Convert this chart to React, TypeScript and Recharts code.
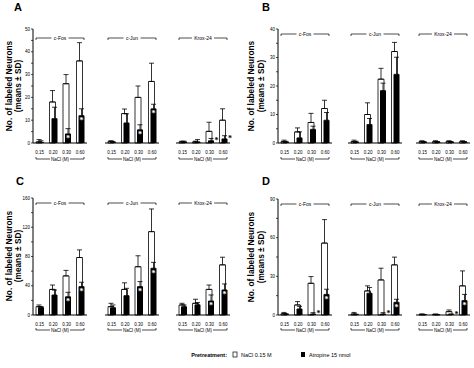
import React from 'react';
import { BarChart, Bar, XAxis, YAxis, ErrorBar, LabelList } from 'recharts';

const doses = ['0.15', '0.20', '0.30', '0.60'];
const genes = ['c-Fos', 'c-Jun', 'Krox-24'];

// rows = gene (c-Fos, c-Jun, Krox-24), columns = NaCl dose
const salineA = [[0.5, 18, 26, 36], [0.7, 12.9, 20, 27], [0.5, 0.5, 5.1, 10]];
const salineSdA = [[1, 5, 4, 8], [0.3, 2, 5, 8], [0.3, 0.3, 4, 5]];
const atropineA = [[0.3, 10.7, 4, 12], [0.3, 8.8, 5.8, 15], [0.5, 0.5, 1, 1.8]];
const atropineSdA = [[0.7, 5, 2.3, 3], [0.3, 4, 2.2, 2], [0.3, 1, 1, 1.4]];
const sigA = [[0, 0, 1, 1], [0, 0, 1, 1], [0, 0, 1, 1]];
const ticksA = [0, 5, 10, 15, 20, 25, 30, 35, 40, 45, 50];

const salineB = [[0.5, 3.9, 7.2, 12.1], [0.5, 10, 22.4, 32.1], [0.5, 0.5, 0.5, 0.5]];
const salineSdB = [[0.5, 1.4, 3.2, 2.9], [0.5, 4.1, 3.8, 3.2], [0.3, 0.3, 0.3, 0.3]];
const atropineB = [[0.3, 1.8, 4.8, 8], [0.3, 6.5, 18.4, 24.1], [0.3, 0.3, 0.3, 0.3]];
const atropineSdB = [[0.3, 2.1, 1.1, 2.7], [0.3, 2.1, 2.6, 6], [0.2, 0.2, 0.2, 0.2]];
const sigB = [[0, 0, 0, 0], [0, 0, 0, 0], [0, 0, 0, 0]];
const ticksB = [0, 5, 10, 15, 20, 25, 30, 35, 40];

const salineC = [[11.4, 35, 53.5, 78.6], [11.4, 35, 66, 114], [13.7, 16, 35, 68.6]];
const salineSdC = [[2.3, 6, 7.5, 10.4], [4.6, 9, 15, 31], [2.3, 5.5, 6, 10.4]];
const atropineC = [[10.5, 27.4, 25, 38.9], [10, 26.5, 38.9, 64], [11.4, 14, 19.2, 34.3]];
const atropineSdC = [[1, 6.6, 6, 5.9], [3.7, 10, 6.8, 8], [2.3, 3, 8.2, 8.2]];
const sigC = [[0, 0, 1, 1], [0, 0, 1, 1], [0, 0, 1, 1]];
const ticksC = [0, 20, 40, 60, 80, 100, 120, 140, 160];

const salineD = [[1, 7.8, 24.6, 55.8], [0.8, 18.7, 27.2, 38.9], [0.5, 0.5, 2.6, 22.6]];
const salineSdD = [[1, 2.6, 5.2, 18.2], [1.2, 3.9, 9.1, 6], [0.3, 0.2, 1.3, 11.6]];
const atropineD = [[0.5, 4.7, 0.8, 16], [0.3, 16.9, 0.8, 9.9], [0.2, 0.2, 0.5, 11.2]];
const atropineSdD = [[0.5, 2, 1, 4], [0.3, 4.4, 1, 2.3], [0.1, 0.1, 0.3, 4.8]];
const sigD = [[0, 0, 1, 1], [0, 0, 1, 1], [0, 0, 1, 1]];
const ticksD = [0, 15, 30, 45, 60, 75, 90];

const panels = [
  { id: 'A', saline: salineA, salineSd: salineSdA, atropine: atropineA, atropineSd: atropineSdA, sig: sigA, ticks: ticksA, major: 10,
    groups: [33, 105, 176], top: 29, bottom: 143, bracketTop: 38, bracketBottom: 159, letter: [14, 11], label: [9, 18, 86] },
  { id: 'B', saline: salineB, salineSd: salineSdB, atropine: atropineB, atropineSd: atropineSdB, sig: sigB, ticks: ticksB, major: 10,
    groups: [278, 348, 416], top: 29, bottom: 143, bracketTop: 34, bracketBottom: 159, letter: [262, 11], label: [251, 261, 86] },
  { id: 'C', saline: salineC, salineSd: salineSdC, atropine: atropineC, atropineSd: atropineSdC, sig: sigC, ticks: ticksC, major: 40,
    groups: [33, 105, 176], top: 198, bottom: 315, bracketTop: 203, bracketBottom: 330, letter: [16, 185], label: [9, 18, 256] },
  { id: 'D', saline: salineD, salineSd: salineSdD, atropine: atropineD, atropineSd: atropineSdD, sig: sigD, ticks: ticksD, major: 30,
    groups: [278, 348, 416], top: 199, bottom: 315, bracketTop: 204, bracketBottom: 330, letter: [262, 185], label: [251, 261, 257] },
];

const PLOT_W = 54;
const Y_W = 14;
const X_H = 14;
const M_TOP = 2;
const FONT = 'Liberation Sans, Arial, sans-serif';

const Star = (props: any) => {
  const { x, y, width, height, value } = props;
  if (!value) return null;
  if (height > 8) {
    return <text x={x + width / 2} y={y + 7.5} textAnchor="middle" fontSize={8} fontWeight="bold" fill="#fff">*</text>;
  }
  return <text x={x + width + 2.5} y={y + 2.5} textAnchor="middle" fontSize={8} fontWeight="bold" fill="#000">*</text>;
};

function Group({ p, gi }: { p: any; gi: number }) {
  const first = gi === 0;
  const rows = doses.map((d, i) => ({
    dose: d,
    saline: p.saline[gi][i],
    salineErr: [0, p.salineSd[gi][i]],
    atropine: p.atropine[gi][i],
    atropineErr: [0, p.atropineSd[gi][i]],
    sig: p.sig[gi][i],
  }));
  const x0 = p.groups[gi];
  const plotH = p.bottom - p.top;
  const max = p.ticks[p.ticks.length - 1];
  return (
    <div style={{ position: 'absolute', left: first ? x0 - Y_W : x0, top: p.top - M_TOP }}>
      <BarChart
        width={first ? PLOT_W + Y_W : PLOT_W}
        height={plotH + M_TOP + X_H}
        data={rows}
        margin={{ top: M_TOP, right: 0, bottom: 0, left: 0 }}
        barSize={6}
        barGap={-4}
      >
        <XAxis
          dataKey="dose"
          interval={0}
          height={X_H}
          tickLine={false}
          tickMargin={2}
          axisLine={{ stroke: '#000', strokeWidth: 1 }}
          tick={{ fontSize: 4.5, fill: '#000', fontFamily: FONT }}
        />
        <YAxis
          hide={!first}
          width={Y_W}
          domain={[0, max]}
          ticks={p.ticks}
          interval={0}
          tickSize={2}
          tickMargin={1}
          axisLine={{ stroke: '#000', strokeWidth: 1 }}
          tickLine={{ stroke: '#000', strokeWidth: 0.7 }}
          tick={(t: any) =>
            t.payload.value % p.major === 0 ? (
              <text x={t.x} y={t.y} dy={1.6} textAnchor="end" fontSize={4.5} fill="#000" fontFamily={FONT}>
                {t.payload.value}
              </text>
            ) : (
              <g />
            )
          }
        />
        <Bar dataKey="saline" fill="#fff" stroke="#000" strokeWidth={0.8} isAnimationActive={false}>
          <ErrorBar dataKey="salineErr" width={2.5} stroke="#000" strokeWidth={0.8} direction="y" />
        </Bar>
        <Bar dataKey="atropine" fill="#000" isAnimationActive={false}>
          <ErrorBar dataKey="atropineErr" width={2.5} stroke="#000" strokeWidth={0.8} direction="y" />
          <LabelList dataKey="sig" content={<Star />} />
        </Bar>
      </BarChart>
    </div>
  );
}

function Decor({ p }: { p: any }) {
  const [lx1, lx2, ly] = p.label;
  return (
    <g fontFamily={FONT}>
      <text x={p.letter[0]} y={p.letter[1]} fontSize={11} fontWeight="bold">{p.id}</text>
      <text x={lx1} y={ly} transform={`rotate(-90 ${lx1} ${ly})`} textAnchor="middle" fontSize={8.3} fontWeight="bold" dy={3}>
        No. of labeled Neurons
      </text>
      <text x={lx2} y={ly} transform={`rotate(-90 ${lx2} ${ly})`} textAnchor="middle" fontSize={8.3} fontWeight="bold" dy={3}>
        (means ± SD)
      </text>
      {genes.map((g, gi) => {
        const x0 = p.groups[gi] + 3;
        const x1 = p.groups[gi] + PLOT_W - 3;
        const cx = (x0 + x1) / 2;
        const tw = g.length * 2.6 + 4;
        const yt = p.bracketTop;
        const yb = p.bracketBottom;
        return (
          <g key={g} stroke="#000" strokeWidth={0.7} fill="none">
            <polyline points={`${x0},${yt + 2} ${x0},${yt} ${cx - tw / 2},${yt}`} />
            <polyline points={`${cx + tw / 2},${yt} ${x1},${yt} ${x1},${yt + 2}`} />
            <text x={cx} y={yt + 1.7} textAnchor="middle" fontSize={5} fill="#000" stroke="none">{g}</text>
            <polyline points={`${x0},${yb - 2} ${x0},${yb} ${cx - 10},${yb}`} />
            <polyline points={`${cx + 10},${yb} ${x1},${yb} ${x1},${yb - 2}`} />
            <text x={cx} y={yb + 1.7} textAnchor="middle" fontSize={4.5} fill="#000" stroke="none">NaCl (M)</text>
          </g>
        );
      })}
    </g>
  );
}

export default function App() {
  return (
    <div style={{ position: 'absolute', left: 0, top: 0, width: 474, height: 368, background: '#fff', overflow: 'hidden' }}>
      <style>{'.recharts-surface { overflow: visible; }'}</style>
      <svg width={474} height={368} style={{ position: 'absolute', left: 0, top: 0 }}>
        {panels.map((p) => (
          <Decor key={p.id} p={p} />
        ))}
        <g fontFamily={FONT} fontSize={5.5}>
          <text x={227} y={357} textAnchor="end" fontWeight="bold">Pretreatment:</text>
          <rect x={233} y={352} width={4} height={5} fill="#fff" stroke="#000" strokeWidth={0.7} />
          <text x={241} y={357}>NaCl 0.15 M</text>
          <rect x={301} y={352} width={4} height={5} fill="#000" />
          <text x={309} y={357}>Atropine 15 nmol</text>
        </g>
      </svg>
      {panels.map((p) =>
        genes.map((g, gi) => <Group key={p.id + g} p={p} gi={gi} />)
      )}
    </div>
  );
}
